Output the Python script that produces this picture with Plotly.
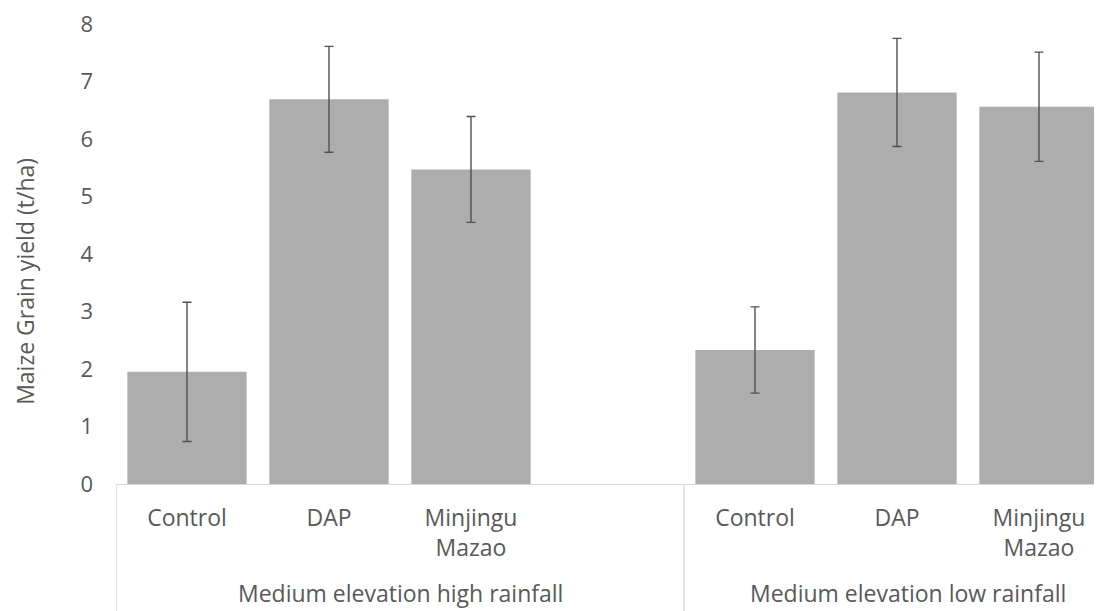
import plotly.graph_objects as go

# ---- data ----
groups = ["Medium elevation high rainfall", "Medium elevation low rainfall"]
treatments = ["Control", "DAP", "Minjingu Mazao"]
high_rain_yield = [1.95, 6.69, 5.47]
high_rain_err = [1.21, 0.92, 0.92]
low_rain_yield = [2.33, 6.81, 6.56]
low_rain_err = [0.75, 0.94, 0.95]
y_ticks = [0, 1, 2, 3, 4, 5, 6, 7, 8]
y_title = "Maize Grain yield (t/ha)"

# slot layout: 3 treatments + 1 empty slot in first group, 3 in second
high_pos = [0, 1, 2]
low_pos = [4, 5, 6]
xs = high_pos + low_pos
ys = high_rain_yield + low_rain_yield
errs = high_rain_err + low_rain_err
labels = [t.replace(" ", "<br>") for t in treatments] * 2

TXT = "#595959"
FONT = "Open Sans"

fig = go.Figure()
fig.add_trace(go.Bar(
    x=xs, y=ys, width=0.84,
    marker=dict(color="#adadad", line=dict(width=0)),
    error_y=dict(type="data", array=errs, visible=True,
                 color="#505050", thickness=1.4, width=4.5),
    showlegend=False,
))

# page has an 8px body margin, so the figure is sized to fit the window
W, H = 1094, 603
ml, mt = 108, 4
axis_y = 476          # figure-pixel row of the category axis
px_per_unit = 57.75
mb = H - axis_y
ph = H - mb - mt
fig.update_layout(
    width=W, height=H,
    margin=dict(l=ml, r=0, t=mt, b=mb, pad=0),
    paper_bgcolor="white", plot_bgcolor="white",
    font=dict(family=FONT, color=TXT),
    xaxis=dict(
        range=[-0.5, -0.5 + (W - ml) / 142.0],
        tickmode="array", tickvals=xs, ticktext=labels,
        tickfont=dict(size=23, color=TXT, family=FONT),
        showgrid=False, zeroline=False,
        showline=True, linecolor="#d9d9d9", linewidth=1.3,
        ticks="", ticklabelstandoff=13, ticklabeloverflow="allow",
    ),
    yaxis=dict(
        range=[0, ph / px_per_unit], tickmode="array", tickvals=y_ticks,
        tickfont=dict(size=22, color=TXT, family=FONT),
        showgrid=False, zeroline=False, showline=False,
        ticks="", ticklabelstandoff=22, ticklabeloverflow="allow",
    ),
    bargap=0.16,
)

# group divider lines below the axis
for xv in [-0.5, 3.5]:
    fig.add_shape(type="line", xref="x", yref="paper",
                  x0=xv, x1=xv, y0=0, y1=-(mb + 5) / ph,
                  line=dict(color="#d9d9d9", width=1.3))

# group labels
group_centers = [1.5, 5.08]
for g, cx in zip(groups, group_centers):
    fig.add_annotation(text=g, xref="x", yref="paper", x=cx,
                       y=(axis_y - 585) / ph, yanchor="middle",
                       showarrow=False,
                       font=dict(size=23, color=TXT, family=FONT))

# y-axis title
fig.add_annotation(text=y_title, xref="paper", yref="paper",
                   x=(17 - ml) / (W - ml), y=(axis_y - 273) / ph,
                   xanchor="center", yanchor="middle", textangle=-90,
                   showarrow=False,
                   font=dict(size=23, color=TXT, family=FONT))

fig.write_html("out.html")
